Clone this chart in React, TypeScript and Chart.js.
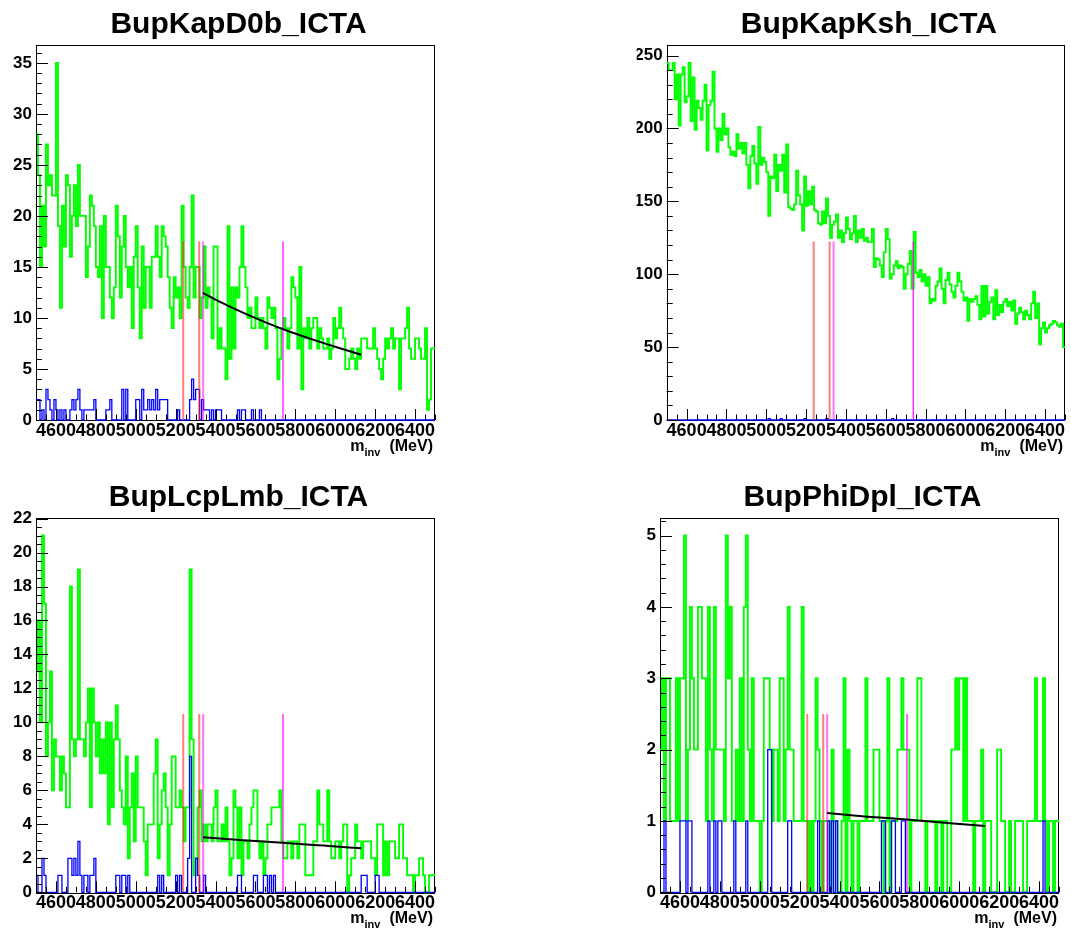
import React, { useEffect, useRef } from "react";
import { Chart, registerables } from "chart.js";

Chart.register(...registerables);

// ---------------- shared axis data ----------------
const X_MIN = 4500;
const X_MAX = 6500;
const BIN_WIDTH = 10;
const X_TICKS = [4600, 4800, 5000, 5200, 5400, 5600, 5800, 6000, 6200, 6400];
const X_MINOR_STEP = 50;
const RED_CUTS = [5238, 5318];
const MAGENTA_CUTS = [5338, 5738];
const AXIS_MAIN = "m";
const AXIS_SUB = "inv";
const AXIS_UNIT = "(MeV)";

// ---------------- BupKapD0b_ICTA ----------------
const KD_TITLE = "BupKapD0b_ICTA";
const KD_GREEN = [
  28, 24, 15, 21, 17, 27, 23, 24, 22, 22, 35, 19, 11, 21, 17, 24, 23, 16, 20, 23,
  19, 25, 20, 20, 20, 14, 17, 22, 21, 19, 15, 14, 19, 10, 20, 15, 15, 12, 10, 13,
  21, 18, 12, 17, 20, 15, 13, 15, 9, 16, 19, 13, 8, 17, 11, 15, 15, 11, 16, 16,
  19, 16, 14, 19, 18, 17, 14, 11, 9, 14, 12, 13, 10, 21, 15, 12, 11, 15, 22, 12,
  15, 15, 10, 12, 17, 11, 13, 12, 8, 17, 17, 7, 9, 7, 7, 4, 19, 6, 13, 7,
  13, 12, 15, 19, 15, 13, 10, 11, 9, 9, 12, 10, 9, 10, 9, 7, 12, 11, 10, 11,
  9, 4, 6, 9, 10, 9, 7, 9, 14, 13, 12, 7, 15, 3, 9, 8, 10, 7, 9, 10,
  10, 7, 9, 8, 7, 7, 8, 6, 7, 10, 8, 9, 11, 9, 8, 5, 5, 6, 7, 6,
  5, 7, 6, 8, 8, 8, 7, 7, 7, 9, 7, 6, 5, 4, 6, 8, 7, 8, 9, 7,
  8, 8, 3, 8, 8, 9, 11, 7, 6, 6, 8, 8, 7, 6, 6, 9, 1, 2, 7, 7,
];
const KD_BLUE = [
  2, 2, 0, 1, 0, 3, 2, 1, 0, 2, 1, 0, 1, 0, 1, 0, 0, 1, 2, 1,
  2, 3, 1, 0, 1, 1, 1, 1, 1, 2, 0, 0, 0, 0, 0, 1, 1, 2, 0, 0,
  0, 0, 0, 3, 0, 3, 0, 0, 0, 0, 2, 2, 0, 3, 1, 1, 2, 1, 2, 1,
  3, 1, 2, 2, 2, 2, 0, 0, 0, 0, 0, 1, 0, 0, 0, 0, 0, 2, 4, 2,
  3, 3, 0, 2, 1, 1, 1, 0, 1, 0, 1, 1, 1, 0, 0, 0, 0, 0, 0, 0,
  0, 1, 0, 1, 1, 0, 0, 0, 1, 0, 0, 0, 1, 0, 0, 0, 0, 0, 0, 0,
  0, 0, 0, 0, 0, 0, 0, 0, 0, 0, 0, 0, 0, 0, 0, 0, 0, 0, 0, 0,
  0, 0, 0, 0, 0, 0, 0, 0, 0, 0, 0, 0, 0, 0, 0, 0, 0, 0, 0, 0,
  0, 0, 0, 0, 0, 0, 0, 0, 0, 0, 0, 0, 0, 0, 0, 0, 0, 0, 0, 0,
  0, 0, 0, 0, 0, 0, 0, 0, 0, 0, 0, 0, 0, 0, 0, 0, 0, 0, 0, 0,
];
const KD_Y_TICKS = [0, 5, 10, 15, 20, 25, 30, 35];
const KD_Y_MINOR = 1;
const KD_Y_MAX = 36.75;
const KD_CUT_HEIGHT = 17.5;
const KD_FIT_X = [5337, 5420, 5540, 5660, 5780, 5900, 6020, 6130];
const KD_FIT_Y = [12.45, 11.6, 10.5, 9.5, 8.6, 7.8, 7.05, 6.4];

// ---------------- BupKapKsh_ICTA ----------------
const KK_TITLE = "BupKapKsh_ICTA";
const KK_GREEN = [
  245, 240, 240, 245, 220, 237, 202, 237, 242, 218, 222, 245, 205, 235, 199, 219, 214, 206, 219, 230,
  185, 216, 219, 239, 200, 184, 200, 192, 210, 196, 200, 187, 182, 184, 181, 196, 186, 190, 183, 190,
  175, 159, 181, 188, 176, 162, 201, 175, 180, 177, 170, 140, 167, 166, 182, 157, 175, 171, 182, 156,
  189, 146, 145, 144, 148, 171, 154, 148, 130, 167, 147, 157, 148, 160, 144, 143, 135, 134, 143, 135,
  152, 140, 125, 134, 136, 141, 125, 130, 122, 128, 139, 131, 124, 128, 140, 122, 130, 125, 131, 123,
  125, 122, 122, 131, 105, 111, 110, 106, 98, 115, 131, 124, 97, 100, 106, 109, 104, 106, 105, 90,
  100, 107, 116, 90, 129, 101, 98, 103, 95, 100, 92, 98, 80, 83, 82, 92, 95, 104, 90, 80,
  96, 101, 93, 88, 84, 92, 101, 95, 88, 82, 84, 68, 83, 81, 83, 85, 79, 69, 92, 71,
  92, 73, 81, 84, 69, 89, 72, 79, 74, 81, 83, 78, 81, 75, 82, 66, 73, 77, 74, 69,
  75, 72, 69, 80, 88, 70, 80, 52, 63, 67, 60, 63, 65, 66, 68, 67, 65, 64, 66, 50,
];
const KK_BLUE = [
  0, 0, 0, 0, 0, 0, 0, 0, 0, 0, 0, 0, 0, 0, 0, 0, 0, 0, 0, 0,
  0, 0, 0, 0, 0, 0, 0, 0, 0, 0, 0, 0, 0, 0, 0, 0, 0, 0, 0, 0,
  0, 0, 0, 0, 0, 0, 0, 0, 0, 0, 0, 1, 0, 0, 0, 0, 0, 1, 0, 0,
  0, 0, 0, 0, 0, 0, 0, 0, 0, 1, 0, 0, 0, 0, 0, 0, 0, 0, 0, 0,
  1, 0, 0, 0, 0, 0, 0, 0, 0, 0, 0, 0, 0, 0, 0, 0, 0, 0, 0, 0,
  0, 0, 0, 0, 0, 0, 0, 0, 0, 0, 0, 0, 0, 1, 0, 0, 0, 0, 0, 0,
  0, 0, 0, 0, 0, 0, 0, 0, 0, 0, 0, 0, 0, 0, 0, 0, 0, 0, 0, 0,
  0, 0, 0, 0, 0, 0, 0, 0, 0, 0, 0, 0, 0, 0, 0, 0, 0, 0, 0, 0,
  0, 0, 0, 0, 0, 0, 0, 0, 0, 0, 0, 0, 0, 0, 0, 0, 0, 0, 0, 0,
  0, 0, 0, 0, 0, 0, 0, 0, 0, 0, 0, 0, 0, 0, 0, 0, 0, 0, 0, 0,
];
const KK_Y_TICKS = [0, 50, 100, 150, 200, 250];
const KK_Y_MINOR = 10;
const KK_Y_MAX = 257.25;
const KK_CUT_HEIGHT = 122.5;

// ---------------- BupLcpLmb_ICTA ----------------
const LL_TITLE = "BupLcpLmb_ICTA";
const LL_GREEN = [
  13, 16, 10, 21, 17, 8, 10, 13, 6, 9, 8, 8, 6, 8, 7, 5, 5, 18, 9, 8,
  9, 19, 9, 9, 8, 10, 12, 5, 12, 10, 8, 10, 7, 9, 7, 10, 4, 10, 5, 9,
  11, 9, 6, 5, 4, 8, 2, 5, 7, 3, 8, 5, 5, 5, 3, 1, 4, 4, 4, 7,
  9, 2, 4, 6, 7, 5, 1, 4, 8, 8, 5, 5, 6, 5, 3, 5, 5, 19, 9, 1,
  2, 5, 6, 3, 4, 3, 4, 4, 3, 5, 6, 3, 3, 4, 3, 5, 3, 1, 2, 6,
  5, 2, 5, 1, 3, 3, 2, 4, 5, 6, 6, 3, 2, 3, 1, 2, 4, 4, 5, 5,
  5, 5, 6, 3, 2, 2, 3, 3, 2, 3, 3, 2, 4, 4, 4, 1, 1, 1, 1, 3,
  3, 6, 4, 4, 3, 3, 6, 3, 2, 2, 3, 3, 2, 3, 4, 4, 0, 1, 2, 2,
  4, 3, 3, 2, 3, 3, 3, 3, 2, 2, 1, 4, 4, 4, 1, 3, 1, 3, 3, 3,
  2, 2, 4, 4, 2, 2, 1, 1, 1, 0, 1, 1, 2, 2, 1, 0, 0, 1, 1, 1,
];
const LL_BLUE = [
  1, 0, 0, 2, 1, 0, 0, 0, 0, 0, 0, 1, 1, 0, 0, 0, 2, 2, 1, 2,
  1, 3, 1, 0, 1, 1, 0, 1, 1, 2, 0, 0, 0, 0, 0, 0, 0, 0, 0, 0,
  1, 1, 0, 1, 1, 0, 1, 0, 0, 0, 0, 0, 0, 0, 0, 0, 0, 0, 0, 0,
  0, 1, 0, 1, 0, 0, 0, 0, 0, 0, 1, 0, 1, 0, 0, 0, 2, 8, 0, 0,
  2, 1, 0, 0, 1, 0, 0, 0, 0, 0, 0, 0, 0, 0, 0, 0, 0, 0, 0, 0,
  0, 1, 1, 0, 0, 0, 0, 0, 0, 1, 1, 0, 0, 0, 1, 1, 0, 1, 0, 1,
  0, 0, 0, 0, 0, 0, 0, 0, 0, 0, 0, 0, 0, 0, 0, 0, 0, 0, 0, 0,
  0, 0, 0, 0, 0, 0, 0, 0, 0, 0, 0, 0, 0, 0, 0, 0, 0, 0, 0, 0,
  0, 0, 0, 1, 1, 1, 0, 0, 0, 0, 1, 1, 0, 0, 0, 0, 0, 0, 0, 0,
  0, 0, 0, 0, 0, 0, 0, 0, 0, 0, 0, 0, 0, 0, 0, 0, 0, 0, 0, 0,
];
const LL_Y_TICKS = [0, 2, 4, 6, 8, 10, 12, 14, 16, 18, 20, 22];
const LL_Y_MINOR = 0.5;
const LL_Y_MAX = 22.05;
const LL_CUT_HEIGHT = 10.5;
const LL_FIT_X = [5337, 5540, 5735, 5940, 6130];
const LL_FIT_Y = [3.24, 3.07, 2.92, 2.75, 2.59];

// ---------------- BupPhiDpl_ICTA ----------------
const PD_TITLE = "BupPhiDpl_ICTA";
const PD_GREEN = [
  2, 3, 1, 3, 3, 1, 1, 1, 3, 1, 3, 3, 5, 1, 2, 4, 3, 2, 2, 4,
  4, 3, 3, 1, 4, 2, 1, 4, 2, 2, 2, 2, 1, 5, 3, 4, 1, 1, 2, 1,
  3, 1, 4, 5, 2, 1, 3, 1, 1, 1, 0, 1, 3, 3, 3, 2, 1, 2, 2, 1,
  3, 3, 1, 2, 4, 2, 2, 1, 1, 1, 1, 4, 1, 1, 0, 1, 0, 1, 3, 2,
  1, 0, 1, 1, 1, 0, 2, 1, 1, 0, 0, 1, 3, 0, 2, 1, 0, 1, 1, 0,
  1, 1, 1, 3, 1, 1, 1, 2, 2, 2, 1, 1, 0, 1, 3, 0, 1, 1, 1, 2,
  2, 3, 2, 2, 2, 0, 1, 1, 1, 3, 3, 1, 1, 0, 1, 1, 1, 1, 0, 1,
  1, 0, 1, 1, 0, 0, 2, 2, 3, 2, 3, 3, 1, 3, 1, 1, 1, 0, 1, 1,
  1, 2, 0, 1, 1, 1, 0, 0, 0, 2, 2, 1, 1, 0, 0, 1, 0, 0, 1, 1,
  1, 1, 0, 0, 1, 1, 1, 1, 3, 1, 1, 1, 3, 1, 0, 1, 1, 0, 1, 1,
];
const PD_BLUE = [
  0, 0, 1, 0, 0, 0, 0, 0, 0, 0, 1, 1, 1, 0, 1, 1, 0, 0, 0, 0,
  0, 0, 0, 0, 1, 0, 0, 1, 0, 1, 1, 0, 0, 0, 0, 0, 0, 1, 0, 0,
  0, 0, 0, 1, 0, 0, 0, 0, 0, 0, 0, 0, 0, 0, 2, 2, 0, 0, 0, 0,
  0, 0, 0, 0, 1, 1, 0, 0, 0, 0, 0, 0, 0, 0, 0, 0, 0, 0, 0, 1,
  0, 0, 0, 0, 1, 0, 1, 0, 1, 0, 0, 0, 0, 0, 0, 0, 0, 0, 0, 0,
  0, 0, 0, 0, 0, 0, 0, 0, 0, 0, 0, 1, 1, 0, 0, 0, 1, 1, 0, 0,
  0, 1, 1, 0, 0, 0, 0, 0, 0, 0, 0, 0, 0, 0, 0, 0, 0, 0, 0, 0,
  0, 0, 0, 0, 0, 0, 0, 0, 0, 0, 0, 0, 0, 0, 0, 0, 0, 0, 0, 0,
  0, 0, 0, 0, 0, 0, 0, 0, 0, 0, 0, 0, 0, 0, 0, 0, 0, 0, 0, 0,
  0, 0, 0, 0, 0, 0, 0, 0, 0, 0, 0, 0, 1, 0, 0, 0, 0, 0, 0, 0,
];
const PD_Y_TICKS = [0, 1, 2, 3, 4, 5];
const PD_Y_MINOR = 0.2;
const PD_Y_MAX = 5.25;
const PD_CUT_HEIGHT = 2.5;
const PD_FIT_X = [5337, 5540, 5735, 5940, 6130];
const PD_FIT_Y = [1.11, 1.06, 1.02, 0.97, 0.93];

// ---------------- layout / style ----------------
const FONT = '"Liberation Sans", Arial, Helvetica, sans-serif';
const Y_AXIS_W = 30;
const X_AXIS_H = 40;

type PanelCfg = {
  title: string;
  green: number[];
  blue: number[];
  yTicks: number[];
  yMinor: number;
  yMax: number;
  cutHeight: number;
  fitX?: number[];
  fitY?: number[];
  cx: number; cy: number; cw: number; ch: number;
  L: number; T: number; R: number; B: number;
};

const PANELS: PanelCfg[] = [
  { title: KD_TITLE, green: KD_GREEN, blue: KD_BLUE, yTicks: KD_Y_TICKS, yMinor: KD_Y_MINOR, yMax: KD_Y_MAX,
    cutHeight: KD_CUT_HEIGHT, fitX: KD_FIT_X, fitY: KD_FIT_Y,
    cx: 0, cy: 0, cw: 535, ch: 467, L: 36, T: 45, R: 435, B: 420 },
  { title: KK_TITLE, green: KK_GREEN, blue: KK_BLUE, yTicks: KK_Y_TICKS, yMinor: KK_Y_MINOR, yMax: KK_Y_MAX,
    cutHeight: KK_CUT_HEIGHT,
    cx: 535, cy: 0, cw: 536, ch: 467, L: 666.7, T: 45, R: 1065, B: 420 },
  { title: LL_TITLE, green: LL_GREEN, blue: LL_BLUE, yTicks: LL_Y_TICKS, yMinor: LL_Y_MINOR, yMax: LL_Y_MAX,
    cutHeight: LL_CUT_HEIGHT, fitX: LL_FIT_X, fitY: LL_FIT_Y,
    cx: 0, cy: 467, cw: 535, ch: 467, L: 36, T: 517.7, R: 435, B: 892.3 },
  { title: PD_TITLE, green: PD_GREEN, blue: PD_BLUE, yTicks: PD_Y_TICKS, yMinor: PD_Y_MINOR, yMax: PD_Y_MAX,
    cutHeight: PD_CUT_HEIGHT, fitX: PD_FIT_X, fitY: PD_FIT_Y,
    cx: 535, cy: 467, cw: 536, ch: 467, L: 660, T: 517.7, R: 1059, B: 892.3 },
];

function histPoints(values: number[]) {
  const pts = values.map((v, i) => ({ x: X_MIN + i * BIN_WIDTH, y: v }));
  pts.push({ x: X_MIN + values.length * BIN_WIDTH, y: values[values.length - 1] });
  return pts;
}

function Panel({ p }: { p: PanelCfg }) {
  const ref = useRef<HTMLCanvasElement>(null);

  useEffect(() => {
    const canvas = ref.current;
    if (!canvas) return;

    const datasets: any[] = [
      {
        data: histPoints(p.green), borderColor: "#00ff00", borderWidth: 1.9, stepped: true,
        pointRadius: 0, fill: false, order: 5, clip: false,
      },
      {
        data: histPoints(p.blue), borderColor: "#0000ff", borderWidth: 1.3, stepped: true,
        pointRadius: 0, fill: false, order: 4, clip: false,
      },
    ];
    RED_CUTS.forEach((x) =>
      datasets.push({
        data: [{ x, y: 0 }, { x, y: p.cutHeight }], borderColor: "rgba(255,40,40,0.6)", borderWidth: 2,
        pointRadius: 0, order: 3,
      })
    );
    MAGENTA_CUTS.forEach((x, i) =>
      datasets.push({
        data: [{ x, y: 0 }, { x, y: p.cutHeight }],
        borderColor: i === 0 ? "rgba(255,0,255,0.55)" : "#ff00ff", borderWidth: i === 0 ? 2 : 1.2,
        pointRadius: 0, order: 2,
      })
    );
    if (p.fitX && p.fitY) {
      datasets.push({
        data: p.fitX.map((x, i) => ({ x, y: p.fitY![i] })), borderColor: "#000000", borderWidth: 2,
        pointRadius: 0, cubicInterpolationMode: "monotone", order: 1,
      });
    }

    const rootStyle = {
      id: "rootStyle",
      beforeDatasetsDraw(chart: any) {
        const { ctx, chartArea } = chart;
        const { left, right, top, bottom } = chartArea;
        ctx.save();
        ctx.strokeStyle = "#000";
        ctx.lineWidth = 1;
        ctx.strokeRect(Math.round(left) + 0.5, Math.round(top) + 0.5, Math.round(right - left) - 1, Math.round(bottom - top));
        ctx.restore();
      },
      afterDatasetsDraw(chart: any) {
        const { ctx, chartArea } = chart;
        const { left, bottom } = chartArea;
        const xs = chart.scales.x;
        const ys = chart.scales.y;
        ctx.save();
        ctx.strokeStyle = "#000";
        ctx.lineWidth = 1;
        ctx.beginPath();
        for (let v = X_MIN; v <= X_MAX; v += X_MINOR_STEP) {
          const px = Math.round(xs.getPixelForValue(v)) + 0.5;
          const len = X_TICKS.includes(v) ? 11 : 5.5;
          ctx.moveTo(px, bottom);
          ctx.lineTo(px, bottom - len);
        }
        const nMinor = Math.floor(p.yMax / p.yMinor + 1e-6);
        for (let k = 0; k <= nMinor; k++) {
          const v = k * p.yMinor;
          const py = Math.round(ys.getPixelForValue(v)) + 0.5;
          const major = p.yTicks.some((t) => Math.abs(t - v) < 1e-6);
          const len = major ? 12 : 6;
          ctx.moveTo(left, py);
          ctx.lineTo(left + len, py);
        }
        ctx.stroke();
        ctx.restore();
      },
      afterDraw(chart: any) {
        const { ctx, chartArea } = chart;
        const { left, right, top, bottom } = chartArea;
        ctx.save();
        ctx.fillStyle = "#000";
        // title
        ctx.font = `bold 30px ${FONT}`;
        ctx.textAlign = "center";
        ctx.textBaseline = "alphabetic";
        ctx.fillText(p.title, (left + right) / 2 + 3, top - 12);
        // axis title m_inv (MeV)
        ctx.textAlign = "left";
        const base = bottom + 31;
        ctx.font = `bold 16px ${FONT}`;
        const wUnit = ctx.measureText(AXIS_UNIT).width;
        const xUnit = right - 2 - wUnit;
        ctx.fillText(AXIS_UNIT, xUnit, base);
        ctx.font = `bold 11px ${FONT}`;
        const wSub = ctx.measureText(AXIS_SUB).width;
        const xSub = xUnit - 9 - wSub;
        ctx.fillText(AXIS_SUB, xSub, base + 5);
        ctx.font = `bold 16px ${FONT}`;
        const wMain = ctx.measureText(AXIS_MAIN).width;
        ctx.fillText(AXIS_MAIN, xSub - wMain, base);
        ctx.restore();
      },
    };

    const chart = new Chart(canvas, {
      type: "line",
      data: { datasets },
      options: {
        animation: false,
        responsive: false,
        maintainAspectRatio: false,
        events: [],
        layout: {
          padding: {
            left: p.L - p.cx - Y_AXIS_W,
            top: p.T - p.cy,
            right: p.cx + p.cw - p.R,
            bottom: p.cy + p.ch - p.B - X_AXIS_H,
          },
        },
        plugins: { legend: { display: false }, tooltip: { enabled: false }, title: { display: false } },
        elements: { point: { radius: 0 }, line: { tension: 0 } },
        scales: {
          x: {
            type: "linear",
            min: X_MIN,
            max: X_MAX,
            grid: { display: false, drawTicks: false },
            border: { display: false },
            afterBuildTicks: (s: any) => { s.ticks = X_TICKS.map((v) => ({ value: v })); },
            afterFit: (s: any) => { s.height = X_AXIS_H; },
            ticks: {
              autoSkip: false, maxRotation: 0, minRotation: 0, padding: 0, color: "#000",
              font: { family: FONT, weight: "bold", size: 18 },
              callback: (v: any) => String(v),
            },
          },
          y: {
            type: "linear",
            min: 0,
            max: p.yMax,
            grid: { display: false, drawTicks: false },
            border: { display: false },
            afterBuildTicks: (s: any) => { s.ticks = p.yTicks.map((v) => ({ value: v })); },
            afterFit: (s: any) => { s.width = Y_AXIS_W; },
            ticks: {
              autoSkip: false, padding: 4, color: "#000",
              font: { family: FONT, weight: "bold", size: 17 },
              callback: (v: any) => String(v),
            },
          },
        },
      } as any,
      plugins: [rootStyle],
    });
    return () => chart.destroy();
  }, [p]);

  return (
    <canvas
      ref={ref}
      width={p.cw}
      height={p.ch}
      style={{ position: "absolute", left: p.cx, top: p.cy, width: p.cw, height: p.ch }}
    />
  );
}

export default function App() {
  return (
    <div
      style={{
        position: "absolute", left: 0, top: 0, width: 1071, height: 934,
        background: "#ffffff", overflow: "hidden",
      }}
    >
      {PANELS.map((p) => (
        <Panel key={p.title} p={p} />
      ))}
    </div>
  );
}
